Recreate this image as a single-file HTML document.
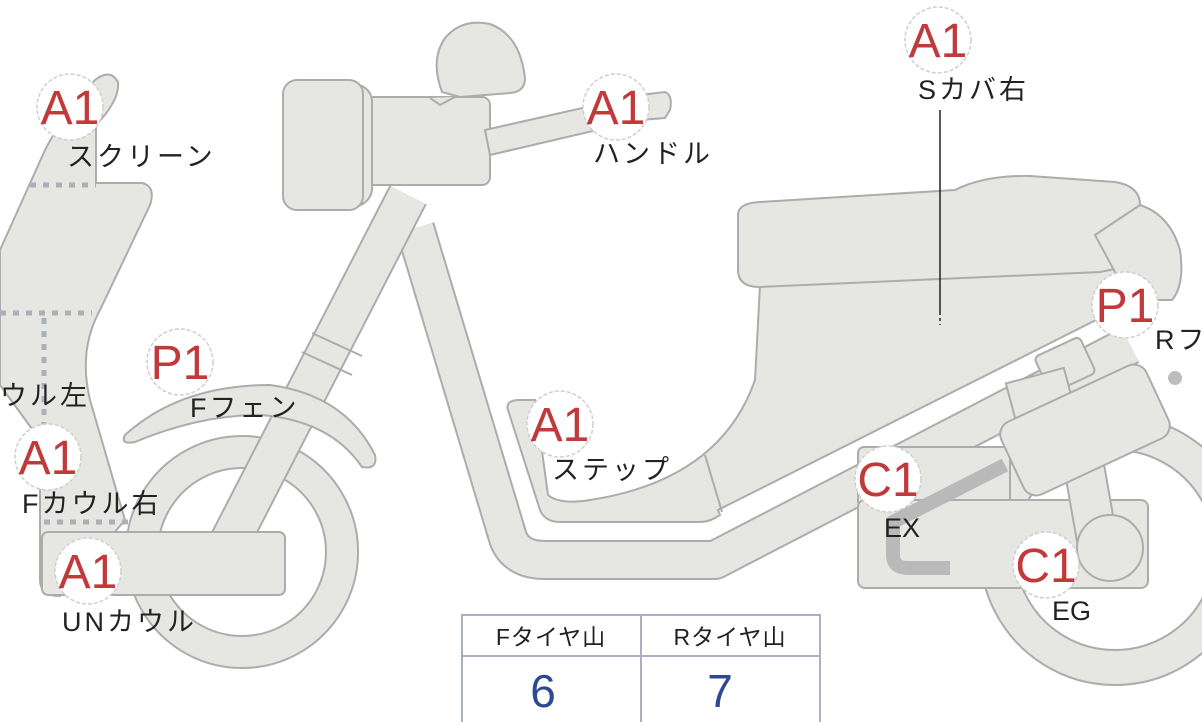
<!DOCTYPE html>
<html><head><meta charset="utf-8"><style>
html,body{margin:0;padding:0;background:#fff;}
svg{display:block;}
.t{font-family:"Liberation Sans","Noto Sans CJK JP",sans-serif;font-size:27px;fill:#222;letter-spacing:3px;}
.b{font-family:"Liberation Sans",sans-serif;font-size:48px;fill:#c0393b;}
</style></head><body>
<svg width="1202" height="722" viewBox="0 0 1202 722" xmlns="http://www.w3.org/2000/svg">
<g fill="#e6e6e3" stroke="#acacac" stroke-width="2">
<path fill-rule="evenodd" d="M1115,415 a135,135 0 1,0 0.1,0 Z M1115,450 a100,100 0 1,1 -0.1,0 Z"/>
<path fill-rule="evenodd" d="M242,436 a116,116 0 1,0 0.1,0 Z M242,468 a84,84 0 1,1 -0.1,0 Z"/>
</g>
<path d="M415,228 L508,538 Q516,560 545,560 L715,560 L1130,345" fill="none" stroke="#acacac" stroke-width="40" stroke-linejoin="round"/>
<path d="M415,228 L508,538 Q516,560 545,560 L715,560 L1130,345" fill="none" stroke="#e6e6e3" stroke-width="36" stroke-linejoin="round"/>
<path d="M228,545 L408,195" stroke="#acacac" stroke-width="42" fill="none"/>
<path d="M228,545 L408,195" stroke="#e6e6e3" stroke-width="38" fill="none"/>
<path d="M302,352 L352,375 M312,333 L362,356" stroke="#acacac" stroke-width="2"/>
<g fill="#e6e6e3" stroke="#acacac" stroke-width="2">
<path d="M125,435 Q180,385 270,385 Q345,395 375,455 Q378,470 362,467 Q330,420 260,415 Q200,415 135,442 Q120,445 125,435Z"/>
<path d="M0,250 L45,150 Q60,120 95,80 Q110,68 118,82 Q120,100 96,125 L96,183 L142,183 Q156,186 150,205 L100,310 Q78,350 90,400 L125,520 L60,596 Q40,596 40,580 L40,440 L0,385 Z"/>
<rect x="42" y="532" width="243" height="63" rx="6"/>
<path d="M508,410 Q505,400 520,400 L535,400 L548,495 Q560,505 590,500 Q720,480 755,380 L760,285 L1130,255 L1150,300 L1100,318 L718,510 L720,515 Q710,522 700,522 L560,522 Q545,522 540,510 Z"/>
<path d="M705,455 L722,512" fill="none"/>
<path d="M738,215 Q738,203 760,202 L955,190 Q985,175 1030,176 L1115,182 Q1140,186 1140,205 L1135,265 L1100,272 L760,287 Q738,287 738,270 Z"/>
<path d="M1095,235 L1140,205 Q1170,215 1180,250 Q1185,285 1172,300 L1130,300 Z"/>
<rect x="1040" y="345" width="50" height="40" rx="5" transform="rotate(-25 1065 365)"/>
<rect x="1010" y="375" width="60" height="40" transform="rotate(-15 1040 395)"/>
<rect x="858" y="447" width="152" height="60" rx="6"/>
<rect x="858" y="500" width="290" height="88" rx="7"/>
<rect x="1070" y="460" width="40" height="80" transform="rotate(-10 1090 500)"/>
<circle cx="1110" cy="548" r="33"/>
<rect x="1005" y="390" width="160" height="80" rx="14" transform="rotate(-25 1085 430)"/>
<circle cx="1175" cy="378" r="7" fill="#bdbdbd" stroke="none"/>
</g>
<path d="M1005,465 L893,522 L893,555 Q893,568 908,568 L950,568" fill="none" stroke="#b9b9b9" stroke-width="14" stroke-linejoin="round"/>
<g fill="#e6e6e3" stroke="#acacac" stroke-width="2">
<rect x="350" y="97" width="140" height="88" rx="8"/>
<path d="M350,83 Q370,85 372,100 L372,190 Q370,205 350,208 Z"/>
<rect x="283" y="80" width="80" height="130" rx="14"/>
<path d="M485,130 L640,95 L665,92 Q673,95 670,110 L665,118 L640,120 L490,155 Z"/>
<path d="M442,92 Q430,60 445,38 Q462,18 490,24 Q520,35 525,78 Q525,92 510,93 L460,97 Z"/>
<path d="M455,97 L440,105 L430,98"/>
</g>
<g stroke="#abb0b8" stroke-width="5" stroke-dasharray="6,7" fill="none">
<path d="M30,185 L96,185"/>
<path d="M0,313 L92,313"/>
<path d="M44,318 L44,440"/>
<path d="M44,522 L132,522"/>
</g>
<path d="M940,110 L940,312" stroke="#222" stroke-width="1.5"/>
<path d="M940,312 L940,325" stroke="#222" stroke-width="1.5" stroke-dasharray="3,3"/>
<g fill="#fff" stroke="#cfcfd3" stroke-width="1.5" stroke-dasharray="4,2">
<circle cx="70" cy="107" r="33"/>
<circle cx="616" cy="107" r="33"/>
<circle cx="938" cy="40" r="33"/>
<circle cx="1125" cy="305" r="33"/>
<circle cx="180" cy="362" r="33"/>
<circle cx="560" cy="424" r="33"/>
<circle cx="48" cy="457" r="33"/>
<circle cx="88" cy="571" r="33"/>
<circle cx="888" cy="479" r="33"/>
<circle cx="1046" cy="565" r="33"/>
</g>
<g class="b" text-anchor="middle">
<text x="70" y="124">A1</text>
<text x="616" y="124">A1</text>
<text x="938" y="57">A1</text>
<text x="1125" y="322">P1</text>
<text x="180" y="379">P1</text>
<text x="560" y="441">A1</text>
<text x="48" y="474">A1</text>
<text x="88" y="588">A1</text>
<text x="888" y="496">C1</text>
<text x="1046" y="582">C1</text>
</g>
<g class="t">
<text x="67" y="166">スクリーン</text>
<text x="593" y="163">ハンドル</text>
<text x="918" y="99">Sカバ右</text>
<text x="1155" y="349">Rフ</text>
<text x="190" y="417">Fフェン</text>
<text x="552" y="479">ステップ</text>
<text x="0" y="405">ウル左</text>
<text x="22" y="513">Fカウル右</text>
<text x="62" y="631">UNカウル</text>
<text x="884" y="537" style="letter-spacing:0">EX</text>
<text x="1052" y="620" style="letter-spacing:0">EG</text>
</g>
<rect x="462" y="615" width="358" height="120" fill="#fff" stroke="#a9b0c2" stroke-width="2"/>
<path d="M462,656 L820,656 M641,615 L641,722" stroke="#a9b0c2" stroke-width="2"/>
<g class="t" text-anchor="middle" style="font-size:23px;letter-spacing:1px">
<text x="551" y="645">Fタイヤ山</text>
<text x="730" y="645">Rタイヤ山</text>
</g>
<g font-family="Liberation Sans,sans-serif" font-size="46" fill="#2d4a91" text-anchor="middle">
<text x="543" y="707">6</text>
<text x="720" y="707">7</text>
</g>
</svg>
</body></html>
